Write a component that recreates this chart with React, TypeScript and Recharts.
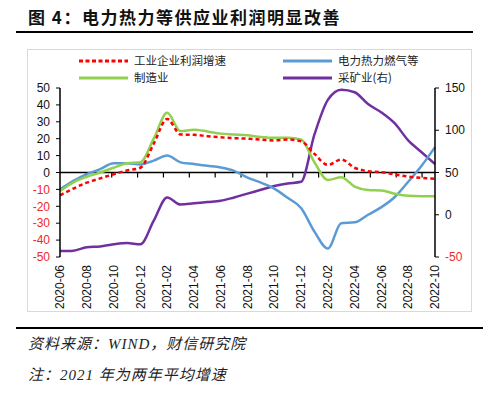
import { LineChart, Line, XAxis, YAxis, ReferenceLine, Legend } from "recharts";

const months = [
  "2020-06", "2020-07", "2020-08", "2020-09", "2020-10", "2020-11", "2020-12",
  "2021-01", "2021-02", "2021-03", "2021-04", "2021-05", "2021-06", "2021-07",
  "2021-08", "2021-09", "2021-10", "2021-11", "2021-12", "2022-01", "2022-02",
  "2022-03", "2022-04", "2022-05", "2022-06", "2022-07", "2022-08", "2022-09",
  "2022-10",
];

// 工业企业利润增速（%）
const industry = [
  -13.5, -9.5, -6, -3.5, -1, 1.2, 2.8, 17, 31.7, 22.5, 22.3, 21.5, 20.8, 20.3,
  20, 19.5, 19, 19.5, 18.5, 11, 4.5, 7.7, 2.8, 0.8, 0.2, -1.2, -2.4, -3.2, -3.8,
];
// 电力热力燃气等
const power = [
  -10, -5, -1, 2, 5.5, 5.5, 4.8, 7, 10, 6, 5, 4, 3, 1, -3, -6, -9.5, -15, -21,
  -35, -45, -30, -29.5, -25, -20.5, -14.5, -5.5, 4, 15,
];
// 制造业
const manufacturing = [
  -11, -5.8, -2.5, 0, 2.8, 5.5, 6, 20, 35.3, 24.5, 25.3, 24.3, 23, 22.5, 22, 21,
  20.5, 20.5, 19.5, 6, -4.5, -2.8, -8.3, -10.3, -10.6, -12.6, -13.8, -14, -14,
];
// 采矿业（右轴）
const mining = [
  -43, -42.5, -38.5, -37.5, -35, -33.5, -35, -7, 20.5, 12, 13.5, 15, 16.5, 20.5,
  25, 29.5, 34, 37, 39, 95, 136, 148, 145, 131, 121, 108, 88, 74, 60,
];

const leftTicks = [-50, -40, -30, -20, -10, 0, 10, 20, 30, 40, 50];
const rightTicks = [-50, 0, 50, 100, 150];

const data = months.map((month, i) => ({
  month,
  industry: industry[i],
  power: power[i],
  manufacturing: manufacturing[i],
  mining: mining[i],
}));

const RED = "#ff0000";
const BLUE = "#5b9bd5";
const GREEN = "#92d050";
const PURPLE = "#7030a0";
const NEG_TEXT = "#ee2a2a";
const AXIS_FONT = "'Liberation Sans', Arial, sans-serif";
const CJK_SANS = "'Noto Sans CJK SC', sans-serif";
const FOOT_FONT = "'Liberation Serif', 'Noto Sans CJK SC', serif";

const legendItems = [
  { name: "工业企业利润增速", color: RED, dashed: true },
  { name: "电力热力燃气等", color: BLUE, dashed: false },
  { name: "制造业", color: GREEN, dashed: false },
  { name: "采矿业(右)", color: PURPLE, dashed: false },
];

function ValueTick(props: any) {
  const { x, y, payload, textAnchor } = props;
  const v = payload.value;
  return (
    <text
      x={x}
      y={y}
      dy="0.35em"
      textAnchor={textAnchor}
      fill={v < 0 ? NEG_TEXT : "#111"}
      fontSize={12}
      fontFamily={AXIS_FONT}
    >
      {v}
    </text>
  );
}

function MonthTick(props: any) {
  const { x, y, payload } = props;
  return (
    <text
      transform={`translate(${x},${y}) rotate(-90)`}
      dy="0.35em"
      textAnchor="end"
      fill="#111"
      fontSize={12}
      fontFamily={AXIS_FONT}
    >
      {payload.value}
    </text>
  );
}

// 零轴：横线 + 每两个月一个向下的刻度（刻度落在类别之间）
function ZeroAxis(props: any) {
  const { x1, x2, y1 } = props;
  const step = (x2 - x1) / months.length;
  const marks = [];
  for (let k = 2; k < months.length; k += 2) {
    const x = x1 + k * step;
    marks.push(<line key={k} x1={x} x2={x} y1={y1} y2={y1 + 5} stroke="#000" strokeWidth={1.2} />);
  }
  return (
    <g>
      <line x1={x1} x2={x2} y1={y1} y2={y1} stroke="#000" strokeWidth={1.5} />
      {marks}
    </g>
  );
}

function LegendBox() {
  return (
    <div
      style={{
        display: "grid",
        gridTemplateColumns: "204px 160px",
        gridAutoRows: "17px",
        paddingLeft: 78,
        fontFamily: CJK_SANS,
        fontSize: 11.5,
        color: "#222",
        lineHeight: "17px",
      }}
    >
      {legendItems.map((it) => (
        <div key={it.name} style={{ display: "flex", alignItems: "center", height: 17 }}>
          <svg width={52} height={8} style={{ marginRight: 4 }}>
            <line
              x1={1}
              x2={50}
              y1={4}
              y2={4}
              stroke={it.color}
              strokeWidth={3}
              strokeDasharray={it.dashed ? "4 2.5" : undefined}
            />
          </svg>
          <span>{it.name}</span>
        </div>
      ))}
    </div>
  );
}

export default function App() {
  return (
    <div
      style={{
        position: "absolute",
        left: 0,
        top: 0,
        width: 500,
        height: 393,
        background: "#fff",
        overflow: "hidden",
      }}
    >
      <div
        style={{
          position: "absolute",
          left: 28,
          top: 4,
          fontFamily: CJK_SANS,
          fontWeight: 700,
          fontSize: 17,
          letterSpacing: 1.5,
          color: "#111",
          whiteSpace: "nowrap",
        }}
      >
        图 4：电力热力等供应业利润明显改善
      </div>
      <div style={{ position: "absolute", left: 16, top: 31, width: 457, height: 2, background: "#000" }} />
      <div
        style={{
          position: "absolute",
          left: 27,
          top: 49,
          width: 443,
          height: 261,
          border: "1px solid #d9d9d9",
        }}
      />
      <div style={{ position: "absolute", left: 0, top: 0 }}>
        <LineChart width={500} height={393} data={data} margin={{ top: 88, right: 0, bottom: 76, left: 0 }}>
          <XAxis
            dataKey="month"
            interval={1}
            axisLine={false}
            tickLine={false}
            tickSize={0}
            tickMargin={8}
            height={60}
            tick={<MonthTick />}
          />
          <YAxis
            yAxisId="left"
            domain={[-50, 50]}
            ticks={leftTicks}
            interval={0}
            width={60}
            axisLine={{ stroke: "#000", strokeWidth: 1.5 }}
            tickLine={{ stroke: "#000" }}
            tickSize={4}
            tickMargin={6}
            tick={<ValueTick />}
          />
          <YAxis
            yAxisId="right"
            orientation="right"
            domain={[-50, 150]}
            ticks={rightTicks}
            interval={0}
            width={65}
            axisLine={{ stroke: "#000", strokeWidth: 1.5 }}
            tickLine={{ stroke: "#000" }}
            tickSize={4}
            tickMargin={6}
            tick={<ValueTick />}
          />
          <ReferenceLine yAxisId="left" y={0} shape={(p: any) => <ZeroAxis {...p} />} />
          <Legend
            layout="horizontal"
            verticalAlign="middle"
            align="center"
            wrapperStyle={{ top: 52, left: 0, width: 500 }}
            content={() => <LegendBox />}
          />
          <Line
            yAxisId="right"
            type="monotone"
            dataKey="mining"
            stroke={PURPLE}
            strokeWidth={2.5}
            dot={false}
            isAnimationActive={false}
          />
          <Line
            yAxisId="left"
            type="monotone"
            dataKey="power"
            stroke={BLUE}
            strokeWidth={2.5}
            dot={false}
            isAnimationActive={false}
          />
          <Line
            yAxisId="left"
            type="monotone"
            dataKey="manufacturing"
            stroke={GREEN}
            strokeWidth={2.5}
            dot={false}
            isAnimationActive={false}
          />
          <Line
            yAxisId="left"
            type="monotone"
            dataKey="industry"
            stroke={RED}
            strokeWidth={2.5}
            strokeDasharray="4 3"
            dot={false}
            isAnimationActive={false}
          />
        </LineChart>
      </div>
      <div style={{ position: "absolute", left: 16, top: 327, width: 467, height: 2, background: "#000" }} />
      <div
        style={{
          position: "absolute",
          left: 28,
          top: 334,
          fontFamily: FOOT_FONT,
          fontStyle: "italic",
          fontSize: 15,
          letterSpacing: 1,
          color: "#222",
          whiteSpace: "nowrap",
          lineHeight: "20px",
        }}
      >
        资料来源：WIND，财信研究院
      </div>
      <div
        style={{
          position: "absolute",
          left: 28,
          top: 365,
          fontFamily: FOOT_FONT,
          fontStyle: "italic",
          fontSize: 15,
          letterSpacing: 1,
          color: "#222",
          whiteSpace: "nowrap",
          lineHeight: "20px",
        }}
      >
        注：2021 年为两年平均增速
      </div>
    </div>
  );
}
